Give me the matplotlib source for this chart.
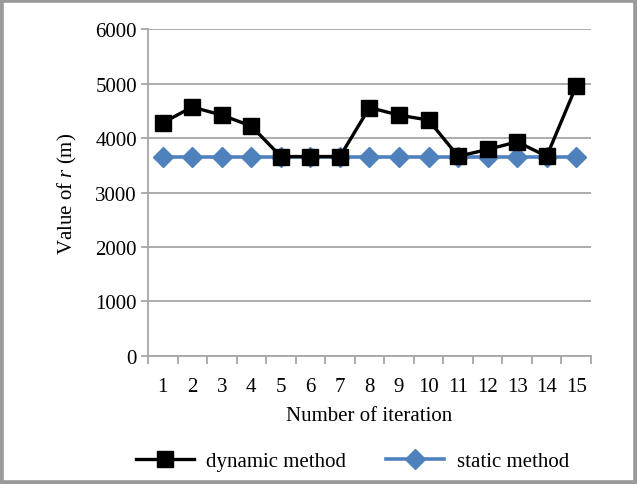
import matplotlib
matplotlib.use("Agg")
import matplotlib.pyplot as plt
from matplotlib.patches import Rectangle
import numpy as np

plt.rcParams["font.family"] = ["Liberation Serif", "DejaVu Serif"]
plt.rcParams["mathtext.fontset"] = "custom"
plt.rcParams["mathtext.rm"] = "Liberation Serif"
plt.rcParams["mathtext.it"] = "Liberation Serif:italic"

iterations = list(range(1, 16))
dynamic_r = [4280, 4570, 4420, 4220, 3660, 3660, 3660, 4560, 4420, 4330, 3665, 3790, 3930, 3665, 4955]
static_r = [3660] * 15
y_ticks = [0, 1000, 2000, 3000, 4000, 5000, 6000]

grid_col = "#a6a6a6"
fig = plt.figure(figsize=(6.37, 4.85), dpi=100)
ax = fig.add_axes([0.2323, 0.264, 0.6955, 0.674])

x = np.arange(len(iterations))
ax.plot(x, static_r, color="#4f81bd", lw=2.6, marker="D", ms=10,
        label="static method", zorder=3)
ax.plot(x, dynamic_r, color="black", lw=2.4, marker="s", ms=11.5,
        label="dynamic method", zorder=4)

ax.set_xlim(-0.5, len(iterations) - 0.5)
ax.set_ylim(0, 6000)
ax.set_yticks(y_ticks)
ax.yaxis.grid(True, color=grid_col, lw=1.3)
ax.set_axisbelow(True)

ax.set_xticks(x)
ax.set_xticklabels([str(i) for i in iterations])
ax.set_xticks(np.arange(-0.5, len(iterations)), minor=True)
ax.tick_params(axis="x", which="major", length=0, pad=15, labelsize=15)
ax.tick_params(axis="x", which="minor", length=6, width=1.3, color=grid_col)
ax.tick_params(axis="y", length=5, width=1.3, color=grid_col, labelsize=15, pad=3)

for s in ["top", "right"]:
    ax.spines[s].set_visible(False)
for s in ["left", "bottom"]:
    ax.spines[s].set_color(grid_col)
    ax.spines[s].set_linewidth(1.3)

ax.set_xlabel("Number of iteration", fontsize=15, labelpad=7)
ax.set_ylabel("Value of $r$ (m)", fontsize=15, labelpad=12)

h, l = ax.get_legend_handles_labels()
fig.legend(h[::-1], l[::-1], loc="lower center", bbox_to_anchor=(0.553, -0.012),
           ncol=2, frameon=False, fontsize=15, handlelength=2.8,
           columnspacing=1.9, handletextpad=0.6)

fig.patches.append(Rectangle((0, 0), 1, 1, transform=fig.transFigure,
                             fill=False, edgecolor="#9a9a9a", lw=5.5))

fig.savefig("out.png", dpi=100)
